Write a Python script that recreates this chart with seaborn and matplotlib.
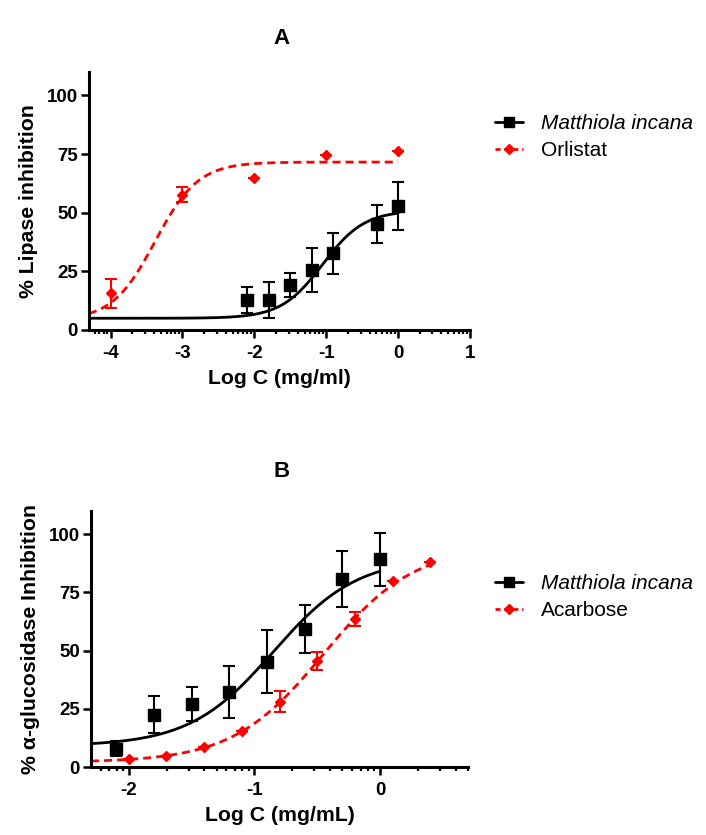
import numpy as np
import pandas as pd
import seaborn as sns
import matplotlib
matplotlib.use("Agg")
import matplotlib.pyplot as plt
from matplotlib.lines import Line2D

# ---------------- data ----------------
# Panel A: lipase inhibition
a_mi_x = [-2.1, -1.8, -1.5, -1.2, -0.9, -0.3, 0.0]
a_mi_y = [12.8, 12.8, 19.2, 25.6, 32.7, 45.2, 52.9]
a_mi_err = [5.5, 7.8, 5.0, 9.3, 8.7, 8.3, 10.1]
a_orl_x = [-4.0, -3.0, -2.0, -1.0, 0.0]
a_orl_y = [15.6, 57.6, 64.8, 74.5, 76.3]
a_orl_err = [6.3, 3.2, 0.0, 0.0, 0.0]
# Panel B: alpha-glucosidase inhibition
b_mi_x = [-2.1, -1.8, -1.5, -1.2, -0.9, -0.6, -0.3, 0.0]
b_mi_y = [7.9, 22.5, 27.0, 32.2, 45.2, 59.4, 80.6, 89.2]
b_mi_err = [3.3, 8.1, 7.2, 11.0, 13.5, 10.3, 12.0, 11.5]
b_aca_x = [-2.0, -1.7, -1.4, -1.1, -0.8, -0.5, -0.2, 0.1, 0.4]
b_aca_y = [3.5, 4.8, 8.6, 15.4, 28.0, 45.4, 63.4, 80.0, 88.3]
b_aca_err = [0.0, 0.0, 0.0, 0.0, 4.5, 3.8, 3.0, 0.0, 0.0]

# four-parameter logistic fit parameters (bottom, top, logEC50, hill)
fit_a_mi = (5.0, 51.0, -1.05, 1.5)
fit_a_orl = (4.0, 71.6, -3.38, 1.45)
fit_b_mi = (9.0, 90.0, -0.85, 1.3)
fit_b_aca = (2.0, 95.0, -0.45, 1.2)

a_xticks = [-4, -3, -2, -1, 0, 1]
b_xticks = [-2, -1, 0]
yticks = [0, 25, 50, 75, 100]


def logistic(x, p):
    b, t, c, h = p
    return b + (t - b) / (1 + 10 ** ((c - x) * h))


sns.set_theme(style="ticks")
plt.rcParams["font.family"] = ["Liberation Sans", "DejaVu Sans"]
for key in ["text.color", "axes.labelcolor", "xtick.color", "ytick.color",
            "axes.edgecolor"]:
    plt.rcParams[key] = "black"

fig = plt.figure(figsize=(7.06, 8.35), dpi=100)
axA = fig.add_axes([89 / 706, 1 - 330 / 835, (470 - 89) / 706, 258 / 835])
axB = fig.add_axes([91 / 706, 1 - 767 / 835, (468 - 91) / 706, 256 / 835])

RED = "#ff0000"
LW = 2.0
DASH = (2.9, 1.8)


def draw(ax, x0, mi, ref, fit_mi, fit_ref, ref_range):
    xs = np.linspace(x0, 0.0, 300)
    df1 = pd.DataFrame({"x": xs, "y": logistic(xs, fit_mi)})
    sns.lineplot(data=df1, x="x", y="y", ax=ax, color="black", lw=LW)
    xr = np.linspace(ref_range[0], ref_range[1], 300)
    df2 = pd.DataFrame({"x": xr, "y": logistic(xr, fit_ref)})
    sns.lineplot(data=df2, x="x", y="y", ax=ax, color=RED, lw=LW)
    ax.lines[-1].set_dashes(DASH)
    rx, ry, re = ref
    ax.errorbar(rx, ry, yerr=re, fmt="D", color=RED, ms=5.6, elinewidth=1.5,
                capsize=4.3, capthick=1.5, zorder=5, clip_on=False)
    mx, my, me = mi
    ax.errorbar(mx, my, yerr=me, fmt="s", color="black", ms=8.6,
                elinewidth=1.5, capsize=4.3, capthick=1.5, zorder=6,
                clip_on=False)


draw(axA, -4.3, (a_mi_x, a_mi_y, a_mi_err), (a_orl_x, a_orl_y, a_orl_err),
     fit_a_mi, fit_a_orl, (-4.3, 0.0))
draw(axB, -2.3, (b_mi_x, b_mi_y, b_mi_err), (b_aca_x, b_aca_y, b_aca_err),
     fit_b_mi, fit_b_aca, (-2.3, 0.4))


def style(ax, xlim, xticks, xlabel, ylabel, ylab_x):
    ax.set_xlim(*xlim)
    ax.set_ylim(0, 110)
    ax.set_xticks(xticks)
    ax.set_xticklabels([("-" if t < 0 else "") + str(abs(t)) for t in xticks])
    minors = []
    for d in range(int(np.floor(xlim[0])) - 1, int(np.ceil(xlim[1])) + 1):
        for k in range(2, 10):
            v = d + np.log10(k)
            if xlim[0] - 1e-9 <= v <= xlim[1] + 1e-9:
                minors.append(v)
    ax.set_xticks(minors, minor=True)
    ax.set_yticks(yticks)
    for s in ["top", "right"]:
        ax.spines[s].set_visible(False)
    for s in ["left", "bottom"]:
        ax.spines[s].set_linewidth(2.2)
        ax.spines[s].set_color("black")
    ax.tick_params(axis="both", which="major", length=6, width=1.8,
                   color="black", labelsize=13.5, labelcolor="black")
    ax.tick_params(axis="y", which="major", pad=2)
    ax.tick_params(axis="x", which="major", pad=5)
    ax.tick_params(axis="x", which="minor", length=3.2, width=1.6,
                   color="black")
    for lab in ax.get_xticklabels() + ax.get_yticklabels():
        lab.set_fontweight("bold")
    ax.set_xlabel(xlabel, fontsize=15.3, fontweight="bold", labelpad=5,
                  color="black")
    ax.set_ylabel(ylabel, fontsize=15.3, fontweight="bold", color="black")
    ax.yaxis.set_label_coords(ylab_x, 0.5)
    ax.grid(False)
    if ax.get_legend() is not None:
        ax.get_legend().remove()


style(axA, (-4.3, 1.0), a_xticks, "Log C (mg/ml)", "% Lipase inhibition",
      (38 - 89) / 381)
style(axB, (-2.3, 0.7), b_xticks, "Log C (mg/mL)",
      "% α-glucosidase Inhibition", (40 - 91) / 377)

fig.text(282 / 706, 1 - 38 / 835, "A", ha="center", va="center",
         fontsize=16, fontweight="bold")
fig.text(282 / 706, 1 - 472 / 835, "B", ha="center", va="center",
         fontsize=16, fontweight="bold")


def add_legend(anchor, ref_label):
    h1 = Line2D([], [], color="black", lw=LW, marker="s", ms=7.5)
    h2 = Line2D([], [], color=RED, lw=LW, marker="D", ms=5.2,
                dashes=(1.8, 1.4))
    leg = fig.legend([h1, h2], ["Matthiola incana", ref_label],
                     loc="upper left", bbox_to_anchor=anchor, frameon=False,
                     fontsize=15, handlelength=1.35, handletextpad=0.85,
                     labelspacing=0.4, borderaxespad=0, borderpad=0)
    for t in leg.get_texts():
        t.set_color("black")
    leg.get_texts()[0].set_fontstyle("italic")


add_legend((495 / 706, 1 - 114 / 835), "Orlistat")
add_legend((495 / 706, 1 - 574 / 835), "Acarbose")

fig.savefig("out.png", dpi=100)
